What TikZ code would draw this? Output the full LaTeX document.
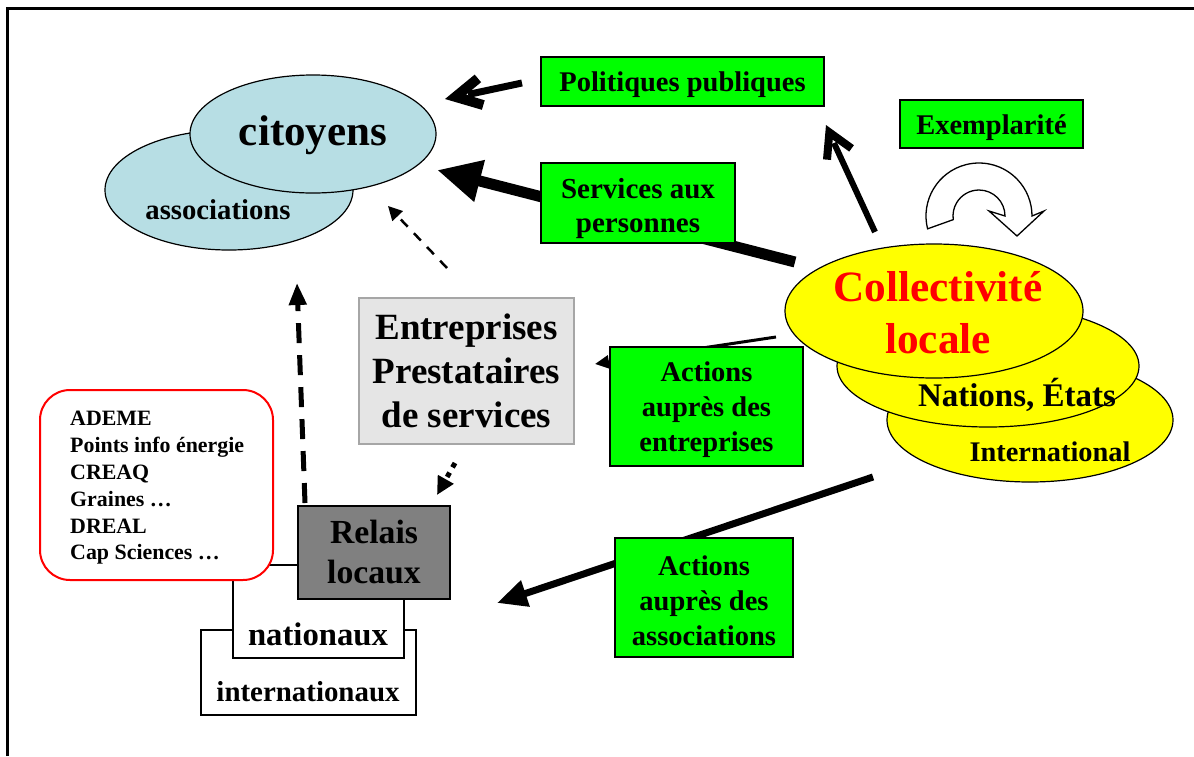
\documentclass[tikz,border=0pt]{standalone}
\usepackage{fontspec}
\setmainfont{Liberation Serif}
\usetikzlibrary{shapes.geometric,arrows.meta}
\definecolor{cgreen}{RGB}{0,255,0}
\definecolor{cblue}{RGB}{183,222,228}
\definecolor{cyel}{RGB}{255,255,0}
\definecolor{cgray}{RGB}{229,229,229}
\definecolor{cgrayline}{RGB}{166,166,166}
\definecolor{cdark}{RGB}{128,128,128}
\begin{document}
\begin{tikzpicture}[x=1pt,y=-1pt,
  fs/.style 2 args={font=\bfseries\fontsize{#1}{#2}\selectfont},
  gbox/.style={draw, line width=1.5pt, fill=cgreen, inner sep=0pt},
  wbox/.style={draw, line width=1.2pt, fill=white, inner sep=0pt},
  ell/.style={ellipse, draw, line width=1.2pt, inner sep=0pt},
  txt/.style={align=center, inner sep=0pt},
  ]
\useasboundingbox (0,0) rectangle (1194,756);
\draw[line width=3pt] (7,756) -- (7,8) -- (1194,8);

% coordinates for connectors
\coordinate (a1s) at (522,83);  \coordinate (a1e) at (468,94.5);
\coordinate (a2s) at (795,262); \coordinate (a2e) at (437,170);
\coordinate (a3s) at (875,232); \coordinate (a3e) at (834,143);
\coordinate (a4s) at (776,337); \coordinate (a4e) at (595,364);
\coordinate (a5s) at (873,477); \coordinate (a5e) at (497,603);
\coordinate (d1s) at (447,268); \coordinate (d1e) at (388,206);
\coordinate (d2s) at (305,503); \coordinate (d2e) at (297,283);
\coordinate (d3s) at (455,463); \coordinate (d3e) at (437,495);

% arrows
\draw[line width=7pt] (a1s) -- (a1e);
\fill (474.7,74.6) -- (445,99) -- (481.9,109.8) -- (484.7,100.3) -- (466.0,94.7) -- (481.1,82.2) -- cycle;
\draw[line width=11pt, -{Triangle[length=44pt,width=40pt]}] (a2s) -- (a2e);
\draw[line width=6pt] (a3s) -- (a3e);
\fill (853.9,145.2) -- (826,125) -- (823.0,159.3) -- (831.0,160.0) -- (832.7,139.7) -- (849.2,151.6) -- cycle;
\draw[line width=3pt, -{Triangle[length=14pt,width=13pt]}] (a4s) -- (a4e);
\draw[line width=7pt, -{Triangle[length=30pt,width=26pt]}] (a5s) -- (a5e);
\draw[line width=2.5pt, dash pattern=on 10pt off 9pt, -{Triangle[length=14pt,width=14pt]}] (d1s) -- (d1e);
\draw[line width=5pt, dash pattern=on 20pt off 12pt, -{Triangle[length=22pt,width=17pt]}] (d2s) -- (d2e);
\draw[line width=5pt, dash pattern=on 5pt off 6pt, -{Triangle[length=18pt,width=17pt]}] (d3s) -- (d3e);

% citoyens / associations
\node[ell, fill=cblue, minimum width=248pt, minimum height=120pt] (assoc) at (229,190) {};
\node[ell, fill=cblue, minimum width=246pt, minimum height=118pt] (citoy) at (313,134) {};
\node[txt, fs={43}{50}] (tcit) at (313,135) {citoyens};
\node[txt, fs={28.7}{34}] (tassoc) at (218,210) {associations};

% green boxes
\node[gbox, minimum width=283pt, minimum height=49pt] (pol) at (682.5,81.5) {};
\node[txt, fs={28.5}{34}] (tpol) at (682.5,84.5) {Politiques publiques};
\node[gbox, minimum width=183pt, minimum height=48pt] (exem) at (991.5,124) {};
\node[txt, fs={28.5}{34}] (texem) at (991.5,128) {Exemplarité};
\node[gbox, minimum width=194pt, minimum height=80pt] (serv) at (638,203) {};
\node[txt, fs={29}{34}] (tserv) at (638,209) {Services aux\\personnes};
\node[gbox, minimum width=193pt, minimum height=119pt] (actent) at (706.5,406.5) {};
\node[txt, fs={28.5}{35}] (tactent) at (706.5,410) {Actions\\auprès des\\entreprises};
\node[gbox, minimum width=178pt, minimum height=119pt] (actass) at (704,597.5) {};
\node[txt, fs={28.5}{35}] (tactass) at (704,600.5) {Actions\\auprès des\\associations};

% entreprises
\node[draw=cgrayline, line width=1.5pt, fill=cgray, minimum width=215pt, minimum height=146pt, inner sep=0pt, align=center, fs={37}{44}] (entr) at (466.5,371) {Entreprises\\Prestataires\\de services};

% relais stack
\node[wbox, minimum width=215pt, minimum height=85pt] (inter) at (308.5,672.5) {};
\node[txt, fs={28.9}{34}] (tinter) at (308,692) {internationaux};
\node[wbox, minimum width=171pt, minimum height=93pt] (nat) at (318.5,611.5) {};
\node[txt, fs={32.7}{38}] (tnat) at (318,634) {nationaux};
\node[draw=red, line width=2pt, fill=white, rounded corners=30pt, minimum width=233pt, minimum height=190pt, inner sep=0pt] (orgs) at (156.5,485) {};
\node[fs={21.9}{26.8}, align=left, anchor=west, inner sep=0pt] (torgs) at (70,488) {ADEME\\Points info énergie\\CREAQ\\Graines …\\DREAL\\Cap Sciences …};
\node[draw, line width=1.5pt, fill=cdark, minimum width=152pt, minimum height=93pt, inner sep=0pt, align=center, fs={33.7}{40}] (relais) at (374,552.5) {Relais\\locaux};

% collectivité ellipses
\node[ell, fill=cyel, minimum width=286pt, minimum height=124pt] (eint) at (1030,420) {};
\node[ell, fill=cyel, minimum width=302pt, minimum height=122pt] (enat) at (988,366) {};
\node[ell, fill=cyel, minimum width=298pt, minimum height=134pt] (ecol) at (934,311) {};
\node[txt, fs={43.3}{52}, text=red] (tcol) at (938,313) {Collectivité\\locale};
\node[txt, fs={33}{38}] (tnat2) at (1017,395) {Nations, États};
\node[txt, fs={28.4}{34}] (tint2) at (1050,452) {International};

% circular arrow
\draw[line width=1.3pt, fill=white] (979,216) ++(166:53) arc[start angle=166, end angle=360, radius=53]
  -- (1044,211) -- (1017,236) -- (989,211) -- (1005,216)
  arc[start angle=360, end angle=172, radius=26] -- cycle;
\end{tikzpicture}
\end{document}
